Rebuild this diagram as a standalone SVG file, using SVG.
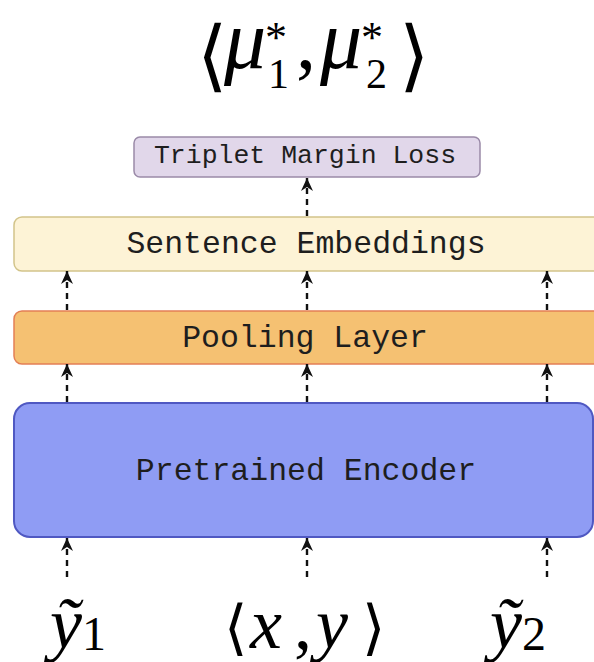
<svg xmlns="http://www.w3.org/2000/svg" width="594" height="662" viewBox="0 0 594 662">
<style>
.lbl{font-family:"Liberation Mono","DejaVu Sans Mono",monospace;fill:#1e1e1e;text-anchor:middle}
.big{font-size:31.5px}
.small{font-size:26.5px}
.math{font-family:"Liberation Serif","DejaVu Serif",serif;fill:#000}
.it{font-style:italic}
.br{font-family:"DejaVu Serif","DejaVu Sans",serif;fill:#000}
.conn{stroke:#111;stroke-width:2.4;stroke-dasharray:6 5;fill:none}
</style>
<defs>
<marker id="ah" markerUnits="userSpaceOnUse" markerWidth="14" markerHeight="14" refX="13" refY="7" orient="auto">
<path d="M0,1 L13,7 L0,13 L4,7 z" fill="#111"/>
</marker>
</defs>
<rect width="594" height="662" fill="#fff"/>
<g id="title">
<text class="br" x="197" y="82" font-size="78">⟨</text>
<text class="math it" x="224" y="68" font-size="84">μ</text>
<text class="math" x="265" y="52" font-size="44">*</text>
<text class="math" x="268" y="88" font-size="42">1</text>
<text class="math" x="296" y="68" font-size="80">,</text>
<text class="math it" x="320" y="68" font-size="84">μ</text>
<text class="math" x="361" y="52" font-size="44">*</text>
<text class="math" x="366" y="88" font-size="42">2</text>
<text class="br" x="399" y="82" font-size="78">⟩</text>
</g>
<g id="triplet">
<rect x="134" y="137" width="346" height="40" rx="6" fill="#e1d7ea" stroke="#9a8aa8" stroke-width="1.5"/>
<text class="lbl small" x="305" y="163">Triplet Margin Loss</text>
</g>
<g id="sentence">
<rect x="14" y="217" width="600" height="54" rx="8" fill="#fdf3d6" stroke="#d2c48a" stroke-width="1.5"/>
<text class="lbl big" x="306" y="253">Sentence Embeddings</text>
</g>
<g id="pooling">
<rect x="14" y="311" width="600" height="53" rx="8" fill="#f5c172" stroke="#e37f55" stroke-width="1.5"/>
<text class="lbl big" x="305" y="347">Pooling Layer</text>
</g>
<g id="encoder">
<rect x="14" y="403" width="579" height="134" rx="16" fill="#8f9cf4" stroke="#4f58c2" stroke-width="2"/>
<text class="lbl big" x="306" y="480" fill="#1a1a3a">Pretrained Encoder</text>
</g>
<g id="connectors">
<line class="conn" x1="307" y1="216" x2="307" y2="178" marker-end="url(#ah)"/>
<line class="conn" x1="67" y1="310" x2="67" y2="271" marker-end="url(#ah)"/>
<line class="conn" x1="307" y1="310" x2="307" y2="271" marker-end="url(#ah)"/>
<line class="conn" x1="547" y1="310" x2="547" y2="271" marker-end="url(#ah)"/>
<line class="conn" x1="67" y1="402" x2="67" y2="364" marker-end="url(#ah)"/>
<line class="conn" x1="307" y1="402" x2="307" y2="364" marker-end="url(#ah)"/>
<line class="conn" x1="547" y1="402" x2="547" y2="364" marker-end="url(#ah)"/>
<line class="conn" x1="67" y1="577" x2="67" y2="538" marker-end="url(#ah)"/>
<line class="conn" x1="307" y1="577" x2="307" y2="538" marker-end="url(#ah)"/>
<line class="conn" x1="547" y1="577" x2="547" y2="538" marker-end="url(#ah)"/>
</g>
<g id="input-y1">
<text class="math it" x="50" y="648" font-size="72">ỹ</text>
<text class="math" x="82" y="650" font-size="48">1</text>
</g>
<g id="input-xy">
<text class="br" x="224" y="648" font-size="60">⟨</text>
<text class="math it" x="250" y="648" font-size="72">x</text>
<text class="math" x="294" y="648" font-size="72">,</text>
<text class="math it" x="316" y="648" font-size="72">y</text>
<text class="br" x="362" y="648" font-size="60">⟩</text>
</g>
<g id="input-y2">
<text class="math it" x="490" y="648" font-size="72">ỹ</text>
<text class="math" x="522" y="650" font-size="48">2</text>
</g>
</svg>
